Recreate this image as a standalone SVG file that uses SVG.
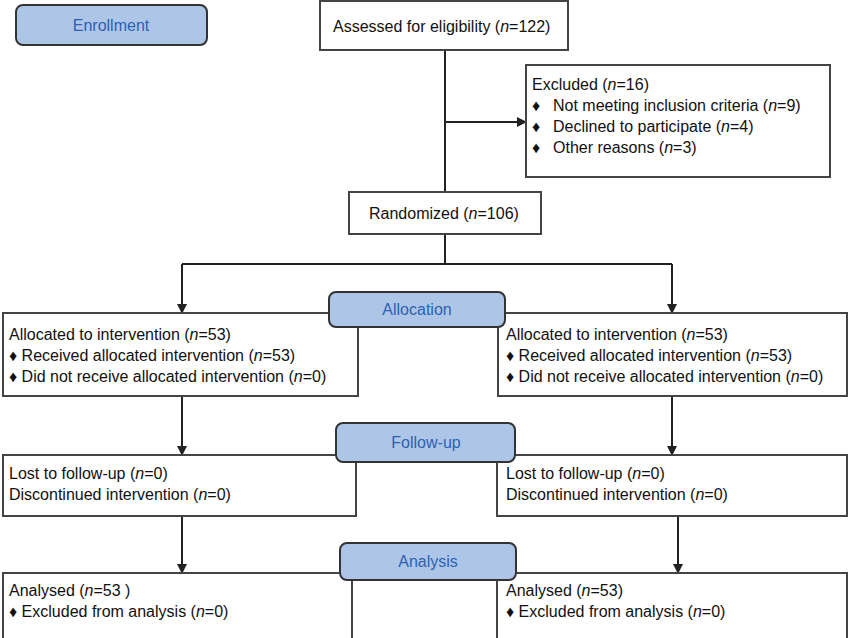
<svg xmlns="http://www.w3.org/2000/svg" width="850" height="638" viewBox="0 0 850 638">
<style>
.b{fill:#fff;stroke:#444;stroke-width:2}
.h{fill:#adc6e8;stroke:#333;stroke-width:2}
.t{font-family:"Liberation Sans",Arial,sans-serif;font-size:16px;fill:#111}
.ht{font-family:"Liberation Sans",Arial,sans-serif;font-size:16px;fill:#2f5fb0;text-anchor:middle}
.c{fill:none;stroke:#222;stroke-width:2}
</style>
<defs><marker id="a" viewBox="0 0 10 10" refX="9" refY="5" markerWidth="5" markerHeight="5" orient="auto"><path d="M0,0L10,5L0,10z" fill="#222"/></marker></defs>
<g id="connectors">
<path class="c" d="M445,50V234" marker-end="url(#a)"/>
<path class="c" d="M445,122H526" marker-end="url(#a)"/>
<path class="c" d="M445,234V264"/>
<path class="c" d="M182,264H672"/>
<path class="c" d="M182,264V313" marker-end="url(#a)"/>
<path class="c" d="M672,264V313" marker-end="url(#a)"/>
<path class="c" d="M182,396V455" marker-end="url(#a)"/>
<path class="c" d="M672,396V455" marker-end="url(#a)"/>
<path class="c" d="M182,516V573" marker-end="url(#a)"/>
<path class="c" d="M678,516V573" marker-end="url(#a)"/>
</g>
<g id="enrollment"><rect class="h" x="16" y="5" width="191" height="40" rx="7"/><text class="ht" x="111" y="31">Enrollment</text></g>
<g id="assessed"><rect class="b" x="320" y="1" width="248" height="49"/><text class="t" x="333" y="32">Assessed for eligibility (<tspan font-style="italic">n</tspan>=122)</text></g>
<g id="excluded"><rect class="b" x="526" y="65" width="304" height="112"/>
<text class="t" x="532" y="90">Excluded  (<tspan font-style="italic">n</tspan>=16)</text>
<text class="t" x="532" y="111">♦</text><text class="t" x="553" y="111">Not meeting inclusion criteria (<tspan font-style="italic">n</tspan>=9)</text>
<text class="t" x="532" y="132">♦</text><text class="t" x="553" y="132">Declined to participate (<tspan font-style="italic">n</tspan>=4)</text>
<text class="t" x="532" y="153">♦</text><text class="t" x="553" y="153">Other reasons (<tspan font-style="italic">n</tspan>=3)</text></g>
<g id="randomized"><rect class="b" x="349" y="192" width="192" height="42"/><text class="t" x="369" y="219">Randomized (<tspan font-style="italic">n</tspan>=106)</text></g>
<g id="alloc-left"><rect class="b" x="3" y="313" width="355" height="83"/>
<text class="t" x="9" y="340">Allocated to intervention (<tspan font-style="italic">n</tspan>=53)</text>
<text class="t" x="9" y="361">♦ Received allocated intervention (<tspan font-style="italic">n</tspan>=53)</text>
<text class="t" x="9" y="382">♦ Did not receive allocated intervention (<tspan font-style="italic">n</tspan>=0)</text></g>
<g id="alloc-right"><rect class="b" x="498" y="313" width="349" height="83"/>
<text class="t" x="506" y="340">Allocated to intervention (<tspan font-style="italic">n</tspan>=53)</text>
<text class="t" x="506" y="361">♦ Received allocated intervention (<tspan font-style="italic">n</tspan>=53)</text>
<text class="t" x="506" y="382">♦ Did not receive allocated intervention (<tspan font-style="italic">n</tspan>=0)</text></g>
<g id="allocation"><rect class="h" x="329" y="292" width="176" height="35" rx="7"/><text class="ht" x="417" y="315">Allocation</text></g>
<g id="fu-left"><rect class="b" x="3" y="455" width="353" height="61"/>
<text class="t" x="9" y="479">Lost to follow-up (<tspan font-style="italic">n</tspan>=0)</text>
<text class="t" x="9" y="500">Discontinued intervention (<tspan font-style="italic">n</tspan>=0)</text></g>
<g id="fu-right"><rect class="b" x="497" y="455" width="350" height="61"/>
<text class="t" x="506" y="479">Lost to follow-up (<tspan font-style="italic">n</tspan>=0)</text>
<text class="t" x="506" y="500">Discontinued intervention (<tspan font-style="italic">n</tspan>=0)</text></g>
<g id="followup"><rect class="h" x="336" y="423" width="179" height="39" rx="7"/><text class="ht" x="426" y="448">Follow-up</text></g>
<g id="an-left"><rect class="b" x="3" y="573" width="349" height="70"/>
<text class="t" x="9" y="596">Analysed (<tspan font-style="italic">n</tspan>=53 )</text>
<text class="t" x="9" y="617">♦ Excluded from analysis (<tspan font-style="italic">n</tspan>=0)</text></g>
<g id="an-right"><rect class="b" x="497" y="573" width="350" height="70"/>
<text class="t" x="506" y="596">Analysed (<tspan font-style="italic">n</tspan>=53)</text>
<text class="t" x="506" y="617">♦ Excluded from analysis (<tspan font-style="italic">n</tspan>=0)</text></g>
<g id="analysis"><rect class="h" x="340" y="543" width="176" height="37" rx="7"/><text class="ht" x="428" y="567">Analysis</text></g>
</svg>
